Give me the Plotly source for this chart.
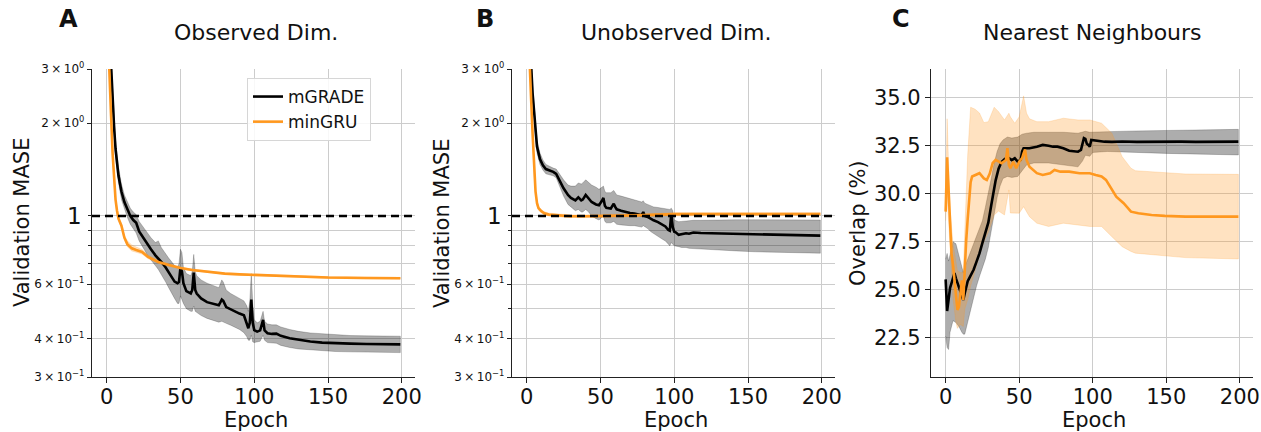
import math
import plotly.graph_objects as go

# ---------------- DATA ----------------
# Panel A - Observed Dim. (Validation MASE, log scale)
a_mg_epoch = [0, 2, 3, 4, 5, 6, 8, 10, 12, 14, 16, 18, 20, 22, 24, 26, 28, 30, 33, 35, 37, 40, 42, 44, 46, 48, 49, 50, 51, 52, 54, 57, 58, 59, 60, 61, 64, 68, 72, 76, 78, 79, 81, 84, 87, 90, 93, 95, 96, 97, 98, 99, 100, 102, 104, 106, 107, 109, 112, 115, 118, 124, 130, 138, 146, 155, 165, 176, 188, 199]
a_mg_mean = [6.0, 3.6, 3.1, 2.45, 1.95, 1.65, 1.35, 1.2, 1.11, 1.05, 1.0, 0.97, 0.95, 0.89, 0.86, 0.83, 0.80, 0.78, 0.745, 0.73, 0.71, 0.68, 0.655, 0.63, 0.612, 0.605, 0.61, 0.68, 0.66, 0.605, 0.57, 0.56, 0.575, 0.655, 0.575, 0.56, 0.54, 0.525, 0.518, 0.513, 0.535, 0.53, 0.506, 0.497, 0.488, 0.482, 0.476, 0.45, 0.432, 0.45, 0.535, 0.45, 0.426, 0.421, 0.425, 0.46, 0.425, 0.416, 0.414, 0.415, 0.408, 0.401, 0.396, 0.391, 0.388, 0.386, 0.385, 0.384, 0.383, 0.383]
a_mg_upper = [6.4, 3.8, 3.25, 2.6, 2.08, 1.76, 1.44, 1.27, 1.17, 1.11, 1.06, 1.03, 1.01, 0.96, 0.93, 0.90, 0.87, 0.85, 0.82, 0.83, 0.79, 0.75, 0.73, 0.71, 0.69, 0.68, 0.70, 0.78, 0.76, 0.68, 0.65, 0.64, 0.66, 0.75, 0.66, 0.64, 0.62, 0.605, 0.595, 0.585, 0.62, 0.61, 0.575, 0.56, 0.55, 0.54, 0.53, 0.51, 0.49, 0.53, 0.65, 0.52, 0.46, 0.45, 0.455, 0.49, 0.455, 0.446, 0.443, 0.443, 0.436, 0.428, 0.422, 0.417, 0.414, 0.411, 0.409, 0.408, 0.407, 0.407]
a_mg_lower = [5.6, 3.4, 2.95, 2.3, 1.85, 1.56, 1.28, 1.13, 1.05, 0.99, 0.94, 0.91, 0.88, 0.83, 0.80, 0.77, 0.74, 0.72, 0.69, 0.67, 0.65, 0.61, 0.585, 0.56, 0.54, 0.52, 0.52, 0.55, 0.54, 0.52, 0.50, 0.49, 0.49, 0.51, 0.49, 0.485, 0.475, 0.465, 0.458, 0.452, 0.455, 0.452, 0.448, 0.442, 0.436, 0.428, 0.418, 0.405, 0.395, 0.395, 0.41, 0.39, 0.388, 0.39, 0.392, 0.41, 0.395, 0.388, 0.386, 0.386, 0.38, 0.374, 0.37, 0.367, 0.365, 0.363, 0.362, 0.361, 0.36, 0.36]

a_gru_epoch = [0, 1, 2, 3, 4, 5, 6, 7, 8, 10, 12, 14, 17, 20, 24, 28, 32, 35, 42, 50, 58, 65, 72, 80, 90, 103, 125, 150, 175, 199]
a_gru_mean = [5.0, 3.6, 3.0, 2.1, 1.6, 1.3, 1.13, 1.04, 0.98, 0.93, 0.85, 0.81, 0.785, 0.775, 0.764, 0.736, 0.72, 0.709, 0.693, 0.678, 0.668, 0.662, 0.657, 0.65, 0.646, 0.643, 0.637, 0.631, 0.629, 0.628]
a_gru_upper = [5.1, 3.66, 3.05, 2.14, 1.63, 1.32, 1.15, 1.06, 1.0, 0.945, 0.865, 0.83, 0.805, 0.793, 0.778, 0.746, 0.728, 0.716, 0.699, 0.683, 0.672, 0.666, 0.661, 0.654, 0.65, 0.647, 0.641, 0.635, 0.633, 0.632]
a_gru_lower = [4.9, 3.54, 2.95, 2.06, 1.57, 1.28, 1.11, 1.02, 0.965, 0.917, 0.837, 0.795, 0.77, 0.76, 0.752, 0.727, 0.712, 0.702, 0.687, 0.673, 0.664, 0.658, 0.653, 0.646, 0.642, 0.639, 0.633, 0.627, 0.625, 0.624]

# Panel B - Unobserved Dim.
b_mg_epoch = [0, 2, 3, 4, 5, 6, 7, 9, 11, 13, 15, 18, 20, 22, 25, 28, 30, 33, 35, 37, 38, 40, 42, 44, 47, 49, 51, 52, 53, 54, 57, 59, 60, 61, 64, 67, 70, 73, 76, 78, 79, 80, 82, 84, 86, 89, 92, 94, 96, 97, 98, 99, 100, 101, 103, 105, 108, 110, 113, 118, 124, 132, 142, 155, 165, 180, 199]
b_mg_mean = [6.0, 3.6, 3.1, 2.5, 2.15, 1.85, 1.68, 1.53, 1.46, 1.42, 1.41, 1.39, 1.37, 1.31, 1.23, 1.17, 1.145, 1.124, 1.15, 1.124, 1.13, 1.17, 1.14, 1.11, 1.09, 1.083, 1.12, 1.144, 1.08, 1.062, 1.057, 1.096, 1.07, 1.051, 1.04, 1.03, 1.022, 1.018, 1.01, 1.005, 1.03, 1.0, 0.993, 0.98, 0.968, 0.955, 0.94, 0.925, 0.9, 0.895, 1.02, 0.92, 0.889, 0.885, 0.868, 0.872, 0.879, 0.876, 0.884, 0.88, 0.879, 0.875, 0.872, 0.87, 0.868, 0.866, 0.863]
b_mg_upper = [6.3, 3.8, 3.25, 2.65, 2.28, 1.95, 1.76, 1.6, 1.52, 1.47, 1.45, 1.43, 1.42, 1.37, 1.31, 1.26, 1.25, 1.25, 1.28, 1.27, 1.28, 1.31, 1.28, 1.26, 1.24, 1.22, 1.24, 1.25, 1.2, 1.19, 1.19, 1.21, 1.19, 1.17, 1.16, 1.15, 1.14, 1.13, 1.12, 1.11, 1.12, 1.1, 1.09, 1.08, 1.07, 1.065, 1.06, 1.055, 1.05, 1.05, 1.06, 1.04, 0.97, 0.965, 0.958, 0.96, 0.965, 0.963, 0.968, 0.968, 0.97, 0.97, 0.972, 0.972, 0.971, 0.97, 0.97]
b_mg_lower = [5.7, 3.4, 2.95, 2.4, 2.05, 1.76, 1.6, 1.47, 1.41, 1.37, 1.36, 1.35, 1.33, 1.25, 1.16, 1.09, 1.07, 1.04, 1.05, 1.03, 1.03, 1.05, 1.03, 1.0, 0.98, 0.97, 0.99, 1.0, 0.96, 0.95, 0.95, 0.96, 0.95, 0.94, 0.935, 0.93, 0.93, 0.93, 0.925, 0.92, 0.93, 0.92, 0.91, 0.89, 0.875, 0.86, 0.84, 0.83, 0.81, 0.8, 0.82, 0.81, 0.8, 0.8, 0.795, 0.79, 0.79, 0.785, 0.785, 0.78, 0.778, 0.775, 0.77, 0.765, 0.762, 0.76, 0.757]

b_gru_epoch = [0, 1, 2, 3, 4, 5, 6, 7, 8, 10, 12, 15, 20, 25, 30, 40, 50, 60, 70, 80, 90, 100, 130, 160, 199]
b_gru_mean = [5.5, 4.0, 3.2, 2.4, 1.85, 1.4, 1.2, 1.1, 1.06, 1.035, 1.02, 1.01, 1.005, 1.0, 0.998, 0.998, 0.999, 1.0, 1.002, 1.006, 1.01, 1.014, 1.015, 1.015, 1.015]
b_gru_upper = [5.6, 4.08, 3.26, 2.45, 1.89, 1.43, 1.22, 1.12, 1.075, 1.048, 1.032, 1.021, 1.015, 1.01, 1.008, 1.008, 1.009, 1.01, 1.012, 1.016, 1.02, 1.024, 1.025, 1.025, 1.025]
b_gru_lower = [5.4, 3.92, 3.14, 2.35, 1.81, 1.37, 1.18, 1.08, 1.045, 1.022, 1.008, 0.999, 0.995, 0.99, 0.988, 0.988, 0.989, 0.99, 0.992, 0.996, 1.0, 1.004, 1.005, 1.005, 1.005]

# Panel C - Nearest Neighbours (Overlap %)
c_mg_epoch = [0, 1, 2, 3, 4, 5, 6, 7, 8, 9, 10, 11, 12, 13, 14, 15, 16, 17, 19, 21, 23, 25, 27, 29, 31, 32, 34, 36, 38, 40, 42, 44, 45, 47, 49, 51, 52, 53, 57, 62, 66, 70, 73, 76, 80, 84, 88, 90, 92, 93, 94, 95, 96, 97, 98, 99, 101, 104, 108, 113, 120, 130, 140, 150, 160, 170, 180, 190, 199]
c_mg_mean = [25.55, 23.9, 24.5, 25.1, 25.35, 25.6, 25.87, 25.6, 25.35, 25.1, 24.9, 24.7, 24.48, 24.83, 25.2, 25.45, 25.6, 25.75, 26.05, 26.47, 26.9, 27.45, 27.95, 28.5, 29.4, 29.9, 30.7, 31.3, 31.65, 31.8, 31.9, 31.8, 31.75, 31.85, 31.67, 31.76, 32.2, 32.37, 32.37, 32.45, 32.54, 32.5, 32.45, 32.45, 32.37, 32.24, 32.2, 32.19, 32.28, 32.6, 32.89, 32.85, 32.6, 32.54, 32.45, 32.8, 32.78, 32.75, 32.71, 32.7, 32.72, 32.7, 32.71, 32.7, 32.71, 32.7, 32.71, 32.7, 32.71]
c_mg_band_epoch = [0, 1, 2, 3, 5, 7, 9, 11, 12, 13, 15, 17, 19, 21, 23, 25, 27, 29, 31, 33, 35, 37, 39, 42, 45, 49, 52, 55, 60, 70, 80, 90, 93, 95, 98, 100, 110, 130, 150, 170, 199]
c_mg_upper = [26.6, 26.9, 26.5, 26.8, 27.5, 27.4, 26.8, 26.2, 25.9, 26.2, 26.6, 27.0, 27.4, 27.8, 28.1, 28.6, 29.3, 30.0, 30.8, 31.6, 32.2, 32.6, 32.8, 32.95, 32.9, 32.95, 33.1, 33.15, 33.2, 33.2, 33.2, 33.15, 33.2, 33.25, 33.2, 33.2, 33.23, 33.27, 33.3, 33.32, 33.35]
c_mg_lower = [22.6, 22.0, 21.9, 22.8, 23.4, 23.3, 23.1, 22.8, 22.7, 22.7, 23.3, 24.0, 24.6, 25.2, 25.7, 26.2, 26.6, 27.2, 28.0, 28.9, 29.8, 30.4, 30.8, 30.9, 30.85, 30.9, 31.2, 31.5, 31.6, 31.6, 31.5, 31.4, 31.7, 32.0, 31.95, 32.15, 32.2, 32.15, 32.1, 32.05, 32.02]

c_gru_epoch = [0, 1, 2, 3, 4, 5, 6, 7, 8, 9, 10, 11, 12, 13, 14, 15, 16, 17, 18, 20, 23, 26, 28, 30, 32, 34, 38, 41, 42, 43, 44, 46, 48, 50, 52, 53, 54, 55, 57, 62, 66, 71, 74, 78, 84, 91, 98, 102, 106, 109, 113, 116, 121, 124, 126, 131, 140, 149, 163, 185, 199]
c_gru_mean = [29.07, 31.9, 30.2, 28.5, 26.91, 26.3, 25.6, 24.7, 23.96, 24.1, 24.83, 25.5, 24.48, 26.2, 27.6, 28.7, 29.85, 30.6, 30.9, 30.98, 31.07, 30.8, 30.72, 31.05, 31.6, 31.76, 31.59, 31.76, 32.37, 31.5, 31.33, 31.67, 31.33, 31.67, 31.85, 32.1, 32.3, 31.76, 31.41, 31.07, 30.98, 31.07, 31.24, 31.15, 31.15, 31.07, 31.07, 30.98, 30.9, 30.72, 30.2, 29.85, 29.51, 29.25, 29.07, 28.99, 28.9, 28.85, 28.81, 28.81, 28.81]
c_gru_band_epoch = [0, 1, 2, 3, 5, 7, 8, 10, 12, 13, 15, 17, 20, 23, 26, 29, 33, 36, 40, 43, 44, 47, 50, 53, 55, 57, 62, 70, 80, 90, 98, 106, 113, 120, 126, 129, 140, 163, 199]
c_gru_upper = [29.6, 33.9, 31.5, 29.2, 27.4, 26.4, 26.0, 25.9, 25.9, 28.0, 32.0, 34.5, 34.4, 34.2, 33.7, 33.75, 34.5, 34.27, 33.84, 34.19, 34.0, 33.67, 34.0, 35.09, 34.19, 33.9, 33.75, 33.75, 33.93, 33.84, 33.84, 33.67, 33.15, 31.93, 31.33, 31.2, 31.15, 31.03, 31.01]
c_gru_lower = [28.6, 29.9, 28.8, 27.6, 24.6, 23.3, 23.0, 23.2, 23.1, 24.0, 24.5, 25.2, 26.0, 26.8, 27.5, 28.0, 28.9, 29.1, 28.9, 30.2, 29.0, 28.99, 28.99, 29.33, 29.1, 28.81, 28.47, 28.3, 28.47, 28.38, 28.3, 28.3, 27.77, 27.25, 27.0, 26.91, 26.82, 26.68, 26.61]

baseline_mase = 1.0
x_ticks = [0, 50, 100, 150, 200]
mase_major_vals = [0.3, 0.4, 0.6, 2, 3]
mase_major_text = ["3\u2009\u00d7\u200910<sup>\u22121</sup>", "4\u2009\u00d7\u200910<sup>\u22121</sup>",
                   "6\u2009\u00d7\u200910<sup>\u22121</sup>",
                   "2\u2009\u00d7\u200910<sup>0</sup>", "3\u2009\u00d7\u200910<sup>0</sup>"]
mase_minor_vals = [0.5, 0.7, 0.8, 0.9, 1]
overlap_ticks = [22.5, 25.0, 27.5, 30.0, 32.5, 35.0]

series_names = ["mGRADE", "minGRU"]

# ---------------- STYLE ----------------
W, H = 1261, 432
BLACK = "#000000"
ORANGE = "#ff981f"
FONT = "DejaVu Sans"
GRID = "#cccccc"
TXT = "#111111"


def px_x(p):
    return p / W


def px_y(p):
    return 1 - p / H


panels = [
    dict(left=92, right=415),
    dict(left=512, right=835),
    dict(left=931, right=1253),
]
top_px, bot_px = 69, 377
xr = [-9.95, 208.95]

fig = go.Figure()


def band(xs, up, lo, color, line_color, xa, ya):
    fig.add_trace(go.Scatter(
        x=list(xs) + list(xs)[::-1], y=list(up) + list(lo)[::-1],
        fill="toself", fillcolor=color, mode="lines",
        line=dict(color=line_color, width=0.8),
        showlegend=False, hoverinfo="skip", xaxis=xa, yaxis=ya))


def line(xs, ys, color, xa, ya, name=None, show=False):
    fig.add_trace(go.Scatter(
        x=xs, y=ys, mode="lines", line=dict(color=color, width=2.6),
        name=name, showlegend=show, legendgroup=name, xaxis=xa, yaxis=ya))


GRAY_FILL = "rgba(0,0,0,0.32)"
GRAY_EDGE = "rgba(0,0,0,0.25)"
OR_FILL = "rgba(255,152,31,0.28)"
OR_EDGE = "rgba(255,152,31,0.25)"

# Panel A
band(a_mg_epoch, a_mg_upper, a_mg_lower, GRAY_FILL, GRAY_EDGE, "x", "y")
band(a_gru_epoch, a_gru_upper, a_gru_lower, OR_FILL, OR_EDGE, "x", "y")
line(a_mg_epoch, a_mg_mean, BLACK, "x", "y", series_names[0], True)
line(a_gru_epoch, a_gru_mean, ORANGE, "x", "y", series_names[1], True)
# Panel B
band(b_mg_epoch, b_mg_upper, b_mg_lower, GRAY_FILL, GRAY_EDGE, "x2", "y2")
band(b_gru_epoch, b_gru_upper, b_gru_lower, OR_FILL, OR_EDGE, "x2", "y2")
line(b_mg_epoch, b_mg_mean, BLACK, "x2", "y2", series_names[0])
line(b_gru_epoch, b_gru_mean, ORANGE, "x2", "y2", series_names[1])
# Panel C
band(c_mg_band_epoch, c_mg_upper, c_mg_lower, GRAY_FILL, GRAY_EDGE, "x3", "y3")
band(c_gru_band_epoch, c_gru_upper, c_gru_lower, OR_FILL, OR_EDGE, "x3", "y3")
line(c_mg_epoch, c_mg_mean, BLACK, "x3", "y3", series_names[0])
line(c_gru_epoch, c_gru_mean, ORANGE, "x3", "y3", series_names[1])

# dashed baseline at MASE = 1 across the full x range
for xa, ya in [("x", "y"), ("x2", "y2")]:
    fig.add_trace(go.Scatter(
        x=xr, y=[baseline_mase, baseline_mase], mode="lines",
        line=dict(color="black", width=2.4, dash="8px,5px"),
        showlegend=False, hoverinfo="skip", xaxis=xa, yaxis=ya))

ydom = [px_y(bot_px), px_y(top_px)]


def xaxis_cfg(p, anchor):
    return dict(domain=[px_x(p["left"]), px_x(p["right"])], anchor=anchor, range=xr,
                tickvals=x_ticks, showgrid=True, gridcolor=GRID, gridwidth=1,
                showline=True, linecolor="#222", linewidth=1.3, ticks="outside",
                ticklen=5, tickcolor="#222", tickfont=dict(size=21, color=TXT),
                ticklabelstandoff=-4,
                zeroline=False, automargin=False)


def ylog_cfg(anchor):
    return dict(domain=ydom, anchor=anchor, type="log",
                range=[math.log10(0.3), math.log10(3)],
                tickvals=mase_major_vals, ticktext=mase_major_text,
                showgrid=True, gridcolor=GRID, gridwidth=1,
                minor=dict(tickvals=mase_minor_vals, showgrid=True, gridcolor=GRID,
                           gridwidth=1, ticks="outside", ticklen=3, tickcolor="#222"),
                showline=True, linecolor="#222", linewidth=1.3, ticks="outside",
                ticklen=4, tickcolor="#222", tickfont=dict(size=12, color=TXT),
                zeroline=False, automargin=False)


fig.update_layout(
    template="none",
    width=W, height=H, autosize=False,
    margin=dict(l=0, r=0, t=0, b=0, pad=0),
    paper_bgcolor="white", plot_bgcolor="white",
    font=dict(family=FONT, color=TXT),
    xaxis=xaxis_cfg(panels[0], "y"),
    xaxis2=xaxis_cfg(panels[1], "y2"),
    xaxis3=xaxis_cfg(panels[2], "y3"),
    yaxis=ylog_cfg("x"),
    yaxis2=ylog_cfg("x2"),
    yaxis3=dict(domain=ydom, anchor="x3", range=[20.47, 36.49], tickvals=overlap_ticks,
                tickformat=".1f", showgrid=True, gridcolor=GRID, gridwidth=1,
                showline=True, linecolor="#222", linewidth=1.3, ticks="outside",
                ticklen=5, tickcolor="#222", tickfont=dict(size=21, color=TXT),
                zeroline=False, automargin=False),
    legend=dict(x=px_x(247), y=px_y(78), xanchor="left", yanchor="top",
                bgcolor="rgba(255,255,255,0.85)", bordercolor="#d6d6d6", borderwidth=1,
                font=dict(size=17, family=FONT, color=TXT), tracegroupgap=0,
                itemwidth=30),
    showlegend=True,
)

ann = []
# "1" tick labels on the log axes (larger than the other log labels)
for cx in [74, 494]:
    ann.append(dict(x=px_x(cx), y=px_y(216), text="1", font=dict(size=23)))
# Panel letters
for cx, t in [(68, "A"), (485, "B"), (901, "C")]:
    ann.append(dict(x=px_x(cx), y=px_y(19), text=f"<b>{t}</b>", font=dict(size=24)))
# Titles
for cx, t in [(256, "Observed Dim."), (676, "Unobserved Dim."), (1092, "Nearest Neighbours")]:
    ann.append(dict(x=px_x(cx), y=px_y(33), text=t, font=dict(size=22)))
# x titles
for p in panels:
    ann.append(dict(x=px_x((p["left"] + p["right"]) / 2 + 2), y=px_y(420), text="Epoch",
                    font=dict(size=21)))
# y titles
for cx, t in [(22, "Validation MASE"), (442, "Validation MASE"), (858, "Overlap (%)")]:
    ann.append(dict(x=px_x(cx), y=px_y(223), text=t, textangle=-90, font=dict(size=21)))

for a in ann:
    a.update(xref="paper", yref="paper", showarrow=False, xanchor="center", yanchor="middle")
    a["font"].update(family=FONT, color=TXT)
fig.update_layout(annotations=ann)

fig.write_html(
    "out.html",
    config={"displayModeBar": False},
    post_script="document.body.style.margin='0';document.body.style.padding='0';",
)
